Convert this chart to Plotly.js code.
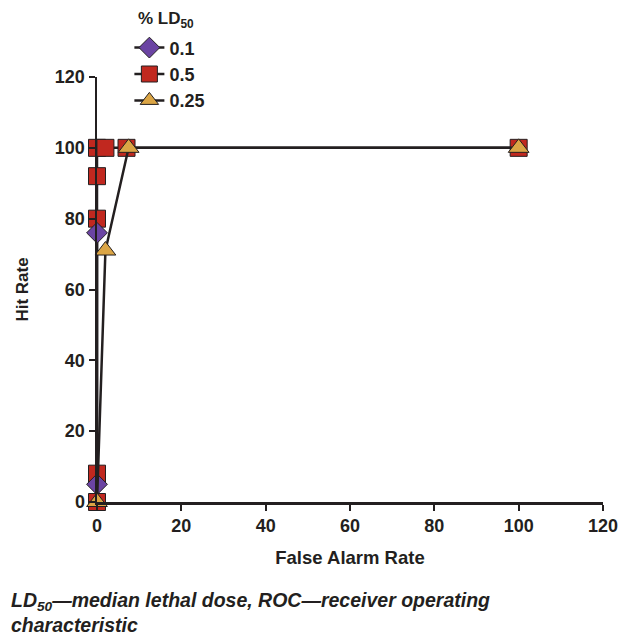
<!DOCTYPE html>
<html>
<head>
<meta charset="utf-8">
<script src="https://cdn.plot.ly/plotly-3.0.1.min.js"></script>
<style>html,body{margin:0;padding:0;background:#fff;}#chart{width:620px;height:636px;}</style>
</head>
<body>
<div id="chart"></div>
<script>
// Series: % LD50 concentration, False Alarm Rate (x) vs Hit Rate (y)
const seriesNames = ["0.1", "0.5", "0.25"];
const x_01 = [0, 0];
const y_01 = [5, 76];
const x_05 = [0, 0, 0, 0, 0, 2, 7, 100];
const y_05 = [0, 8, 80, 92, 100, 100, 100, 100];
const x_025 = [0, 2, 7.5, 100];
const y_025 = [0, 71, 100, 100];
const tickVals = [0, 20, 40, 60, 80, 100, 120];

const lineStyle = {color: "#231f20", width: 2.5};
const font = "Liberation Sans, Arial, sans-serif";

const traces = [
  {x: x_01, y: y_01, name: seriesNames[0], mode: "lines+markers", line: lineStyle,
   marker: {symbol: "diamond", size: 16, color: "#6b44a3", line: {color: "#231f20", width: 1}}, cliponaxis: false},
  {x: x_05, y: y_05, name: seriesNames[1], mode: "lines+markers", line: lineStyle,
   marker: {symbol: "square", size: 17, color: "#c1281f", line: {color: "#231f20", width: 1}}, cliponaxis: false},
  {x: x_025, y: y_025, name: seriesNames[2], mode: "lines+markers", line: lineStyle,
   marker: {symbol: "triangle-up", size: 18, color: "#dba545", line: {color: "#231f20", width: 1}}, cliponaxis: false}
];
// draw order: squares first, then diamonds, then triangles on top
const ordered = [traces[1], traces[0], traces[2]];
ordered.forEach(t => t.legendrank = {"0.1": 1, "0.5": 2, "0.25": 3}[t.name]);

const layout = {
  width: 620, height: 636,
  margin: {l: 97, r: 17, t: 77, b: 134},
  paper_bgcolor: "#fff", plot_bgcolor: "#fff",
  font: {family: font, color: "#231f20"},
  xaxis: {
    range: [0, 120], tickvals: tickVals, ticktext: tickVals.map(String),
    showgrid: false, zeroline: false, showline: true, linecolor: "#231f20", linewidth: 2.5,
    ticks: "outside", ticklen: 6, tickwidth: 2, tickcolor: "#231f20",
    tickfont: {size: 18, family: font, weight: "bold"},
    title: {text: "<b>False Alarm Rate</b>", font: {size: 18.5, family: font}, standoff: 16}
  },
  yaxis: {
    range: [0, 120], tickvals: tickVals, ticktext: tickVals.map(String),
    showgrid: false, zeroline: false, showline: true, linecolor: "#231f20", linewidth: 2.5,
    ticks: "outside", ticklen: 6, tickwidth: 2, tickcolor: "#231f20",
    tickfont: {size: 18, family: font, weight: "bold"},
    title: {text: "<b>Hit Rate</b>", font: {size: 17, family: font}, standoff: 22}
  },
  showlegend: true,
  legend: {
    x: 0.064, xanchor: "left", y: 1.112, yanchor: "top",
    font: {size: 18, family: font, weight: "bold"},
    bgcolor: "rgba(0,0,0,0)", tracegroupgap: 0
  },
  annotations: [
    {xref: "paper", yref: "paper", x: 0.136, y: 1.134, xanchor: "center", yanchor: "middle",
     text: "<b>% LD<sub>50</sub></b>", showarrow: false, font: {size: 17, family: font}},
    {xref: "paper", yref: "paper", x: -0.173, y: -0.2, xanchor: "left", yanchor: "top", align: "left",
     text: "<b><i>LD<sub>50</sub>—median lethal dose, ROC—receiver operating<br>characteristic</i></b>",
     showarrow: false, font: {size: 19.5, family: font}}
  ]
};

Plotly.newPlot("chart", ordered, layout, {displayModeBar: false, staticPlot: true});
</script>
</body>
</html>
